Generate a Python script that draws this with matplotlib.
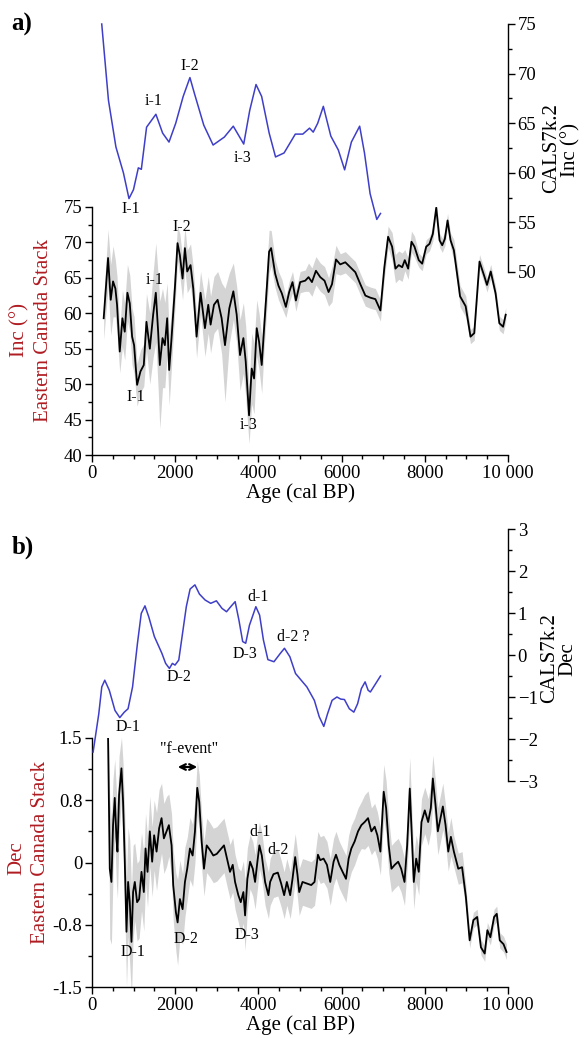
import matplotlib
matplotlib.use('Agg')
import matplotlib.pyplot as plt
from matplotlib.ticker import MultipleLocator, FixedLocator, FixedFormatter
import numpy as np

plt.rcParams['font.family'] = ['Liberation Serif', 'DejaVu Serif']

# ---------------- data: panel a (inclination) ----------------
cals_inc_age = [234, 396, 575, 755, 889, 997, 1114, 1186, 1312, 1536, 1698, 1851, 2013, 2192,
                2354, 2462, 2687, 2911, 3181, 3396, 3647, 3792, 3943, 4078, 4259, 4412, 4617,
                4887, 5067, 5229, 5318, 5426, 5561, 5741, 5921, 6073, 6235, 6434, 6550, 6685,
                6846, 6935]
cals_inc = [75.0, 67.3, 62.6, 60.0, 57.4, 58.3, 60.5, 60.35, 64.6, 65.9, 64.0, 63.1, 65.0, 67.7,
            69.6, 68.0, 64.8, 62.8, 63.6, 64.7, 62.9, 66.3, 68.9, 67.7, 64.0, 61.6, 62.0,
            63.9, 63.9, 64.5, 64.1, 65.0, 66.7, 63.7, 62.3, 60.3, 63.1, 64.7, 62.0, 57.9,
            55.3, 55.9]

stack_inc_age = [281, 386, 450, 506, 562, 602, 667, 731, 787, 851, 908, 964, 1012, 1084, 1165,
                 1245, 1309, 1390, 1470, 1534, 1590, 1630, 1695, 1751, 1807, 1855, 1912, 1992,
                 2056, 2112, 2177, 2233, 2289, 2369, 2434, 2514, 2610, 2715, 2795, 2851, 2932,
                 3020, 3116, 3197, 3301, 3398, 3478, 3558, 3639, 3695, 3775, 3839, 3896, 3960,
                 4016, 4080, 4137, 4201, 4257, 4306, 4402, 4482, 4564, 4660, 4740, 4820, 4901,
                 5004, 5125, 5205, 5287, 5383, 5487, 5590, 5687, 5769, 5865, 5967, 6089, 6209,
                 6330, 6451, 6571, 6692, 6812, 6933, 7028, 7118, 7214, 7294, 7374, 7456, 7519,
                 7600, 7680, 7752, 7855, 7937, 8034, 8113, 8193, 8275, 8355, 8419, 8482, 8547,
                 8619, 8699, 8819, 8847, 8982, 9099, 9189, 9315, 9432, 9495, 9585, 9702, 9792,
                 9882, 9945]
stack_inc = [59.3, 67.8, 61.9, 64.5, 63.5, 61.2, 54.6, 59.3, 57.4, 62.9, 61.4, 56.7, 55.5, 49.9,
             51.8, 52.7, 58.8, 55.0, 59.8, 62.9, 57.4, 52.7, 56.5, 55.5, 59.3, 52.0, 56.5, 63.5,
             69.9, 68.2, 64.9, 69.2, 65.9, 66.8, 63.5, 56.7, 62.9, 57.9, 61.2, 58.4, 61.2,
             61.9, 59.3, 55.5, 60.7, 63.1, 59.8, 54.1, 56.5, 53.2, 45.6, 52.2, 50.8, 57.9,
             56.0, 52.7, 57.9, 63.5, 68.7, 69.2, 65.6, 63.9, 62.8, 60.9, 63.0, 64.4, 61.8,
             64.4, 64.6, 65.1, 64.4, 66.0, 65.1, 64.6, 63.0, 64.1, 67.6, 66.9, 67.2, 66.5,
             65.8, 64.1, 62.5, 62.2, 62.0, 60.4, 66.5, 70.8, 69.4, 66.3, 66.8, 66.5, 67.5,
             66.3, 70.1, 69.4, 67.5, 67.0, 69.4, 69.8, 71.2, 74.9, 70.3, 69.6, 70.5, 73.1,
             70.3, 68.9, 63.7, 62.4, 61.0, 56.7, 57.2, 67.3, 65.2, 64.0, 65.9, 62.8, 58.6,
             58.1, 59.8]
stack_inc_err = [3, 4, 5, 5, 4, 4, 3, 4, 4, 4, 4, 4, 4, 3, 3,
                 3, 4, 5, 6, 7, 8, 9, 7, 6, 5, 5, 4, 3,
                 2.5, 3, 3, 3, 3, 3, 3, 3, 3, 4, 4, 4, 4,
                 4, 5, 8, 5, 4, 4, 5, 5, 5, 4, 5, 5, 4,
                 4, 4, 3, 3, 3, 2.5, 2, 2, 2, 1.5, 1.5, 1.5, 1.5,
                 1.5, 1.5, 2, 2, 2, 2, 2, 2, 2.5, 2, 1.5, 1.5, 1.5,
                 1.5, 1.5, 1.5, 1.5, 1.5, 1.5, 1.5, 1.5, 2, 2, 2, 2, 1.5,
                 1.5, 1.5, 1.5, 1, 1, 1, 1, 1, 1, 1, 1, 1, 1,
                 1, 1.5, 1.5, 1.5, 1.5, 1, 1, 1, 1, 1, 1, 1, 1,
                 1, 1]

# ---------------- data: panel b (declination) ----------------
cals_dec_age = [27, 163, 235, 307, 416, 552, 668, 777, 867, 975, 1093, 1184, 1273, 1364, 1499,
                1680, 1770, 1861, 1932, 1996, 2086, 2177, 2267, 2358, 2474, 2583, 2718, 2854,
                2990, 3125, 3234, 3352, 3441, 3532, 3622, 3695, 3785, 3939, 4029, 4120, 4228,
                4374, 4528, 4627, 4756, 4892, 5028, 5165, 5345, 5462, 5572, 5662, 5771, 5888,
                5978, 6068, 6186, 6294, 6385, 6475, 6565, 6638, 6692, 6935]
cals_dec = [-2.31, -1.40, -0.76, -0.60, -0.84, -1.32, -1.49, -1.36, -1.28, -0.76, 0.28, 0.99,
            1.17, 0.91, 0.44, 0.04, -0.20, -0.32, -0.20, -0.24, -0.12, 0.52, 1.15, 1.57, 1.67,
            1.45, 1.31, 1.23, 1.29, 1.11, 1.03, 1.17, 1.27, 0.83, 0.32, 0.28, 0.71, 1.15, 0.95,
            0.36, -0.11, -0.16, 0.04, 0.16, -0.04, -0.44, -0.60, -0.76, -1.08, -1.47, -1.70,
            -1.40, -1.08, -1.00, -1.05, -1.06, -1.28, -1.36, -1.16, -0.80, -0.64, -0.84, -0.88,
            -0.50]

stack_dec_age = [386, 427, 467, 506, 547, 588, 612, 651, 708, 747, 788, 829, 868, 908, 949,
                 988, 1029, 1084, 1133, 1190, 1246, 1287, 1335, 1390, 1446, 1494, 1552, 1614,
                 1672, 1728, 1793, 1848, 1913, 1952, 2017, 2058, 2113, 2178, 2234, 2289, 2354,
                 2419, 2475, 2530, 2578, 2636, 2692, 2757, 2836, 2916, 2998, 3077, 3173, 3253,
                 3318, 3383, 3439, 3518, 3576, 3639, 3680, 3735, 3800, 3865, 3920, 3976, 4024,
                 4082, 4161, 4241, 4282, 4362, 4467, 4547, 4619, 4684, 4764, 4820, 4884, 4940,
                 4981, 5060, 5166, 5270, 5349, 5431, 5487, 5566, 5648, 5727, 5807, 5865, 5945,
                 6024, 6106, 6169, 6234, 6313, 6395, 6475, 6554, 6636, 6716, 6795, 6860, 6933,
                 7012, 7070, 7133, 7198, 7278, 7360, 7432, 7512, 7576, 7639, 7696, 7735, 7793,
                 7855, 7920, 8000, 8081, 8145, 8193, 8258, 8313, 8378, 8434, 8499, 8564, 8627,
                 8699, 8805, 8896, 8987, 9078, 9168, 9259, 9349, 9440, 9504, 9576, 9666, 9730,
                 9802, 9893, 9965]
stack_dec = [1.62, -0.08, -0.25, 0.48, 0.83, 0.31, 0.14, 0.87, 1.21, 0.78, 0.01, -0.89, -0.25,
             -0.51, -1.02, -0.38, -0.25, -0.51, -0.47, -0.12, -0.38, 0.18, -0.12, 0.40, 0.01,
             0.35, 0.14, 0.44, 0.57, 0.31, 0.40, 0.48, 0.22, -0.29, -0.64, -0.77, -0.47, -0.60,
             -0.25, -0.08, 0.18, 0.09, 0.40, 0.96, 0.78, 0.27, -0.08, 0.22, 0.16, 0.09, 0.11,
             0.16, 0.22, 0.03, -0.12, -0.03, -0.25, -0.42, -0.51, -0.38, -0.68, -0.21, 0.01,
             -0.08, -0.25, 0.01, 0.22, 0.09, -0.25, -0.42, -0.25, -0.15, -0.13, -0.27, -0.42,
             -0.25, -0.42, -0.21, 0.07, -0.16, -0.38, -0.25, -0.27, -0.29, -0.25, 0.10, 0.03,
             0.05, -0.03, -0.25, 0.01, 0.10, -0.03, -0.12, -0.21, 0.05, 0.18, 0.27, 0.40, 0.48,
             0.52, 0.57, 0.40, 0.46, 0.35, 0.14, 0.91, 0.70, 0.22, -0.08, -0.03, 0.01, -0.08,
             -0.25, 0.22, 0.95, 0.22, -0.25, 0.05, -0.12, 0.52, 0.67, 0.52, 0.70, 1.08, 0.74,
             0.40, 0.57, 0.72, 0.48, 0.14, 0.33, 0.14, -0.08, -0.06, -0.44, -1.00, -0.74, -0.70,
             -1.09, -1.17, -0.87, -0.96, -0.70, -0.66, -1.00, -1.05, -1.15]
stack_dec_err = [0.2, 0.9, 0.8, 0.6, 0.5, 0.6, 0.6, 0.5, 0.4, 0.5, 0.6, 0.7, 0.7, 0.8, 0.7,
                 0.6, 0.5, 0.5, 0.5, 0.5, 0.5, 0.45, 0.45, 0.45, 0.45, 0.45, 0.5, 0.5,
                 0.45, 0.45, 0.45, 0.4, 0.4, 0.45, 0.5, 0.55, 0.5, 0.45, 0.45, 0.4, 0.4,
                 0.4, 0.4, 0.35, 0.35, 0.35, 0.35, 0.35, 0.35, 0.35, 0.35, 0.35, 0.35, 0.35,
                 0.35, 0.35, 0.35, 0.35, 0.4, 0.4, 0.45, 0.4, 0.35, 0.35, 0.35, 0.35, 0.3,
                 0.3, 0.3, 0.3, 0.3, 0.3, 0.3, 0.3, 0.3, 0.3, 0.3, 0.3, 0.3, 0.3,
                 0.3, 0.3, 0.3, 0.3, 0.3, 0.3, 0.3, 0.3, 0.3, 0.3, 0.3, 0.3, 0.3,
                 0.3, 0.3, 0.3, 0.3, 0.3, 0.3, 0.3, 0.35, 0.35, 0.3, 0.3, 0.3, 0.3,
                 0.35, 0.35, 0.35, 0.3, 0.3, 0.3, 0.3, 0.3, 0.3, 0.4, 0.35, 0.35, 0.3,
                 0.3, 0.3, 0.3, 0.3, 0.3, 0.3, 0.3, 0.3, 0.3, 0.3, 0.25, 0.25, 0.25,
                 0.2, 0.2, 0.2, 0.15, 0.1, 0.1, 0.1, 0.1, 0.1, 0.1, 0.1, 0.1, 0.1,
                 0.1, 0.1, 0.1]

x_ticks = [0, 2000, 4000, 6000, 8000, 10000]
x_ticklabels = ['0', '2000', '4000', '6000', '8000', '10 000']
dec_ticks = [-1.6, -0.8, 0, 0.8, 1.6]
dec_ticklabels = ['-1.5', '-0.8', '0', '0.8', '1.5']

# ---------------- layout helpers ----------------
W, H = 586, 1038
fig = plt.figure(figsize=(W / 100, H / 100), dpi=100)


def rect(l, t, r, b):
    return [l / W, 1 - b / H, (r - l) / W, (b - t) / H]


def fx(x):
    return x / W


def fy(y):
    return 1 - y / H


RED = '#b01c22'
BLUE = '#3e3ec8'
GRAY = '#d4d4d4'
TICK_FS = 13.5
LABEL_FS = 15
ANN_FS = 11.5


def style_main(ax):
    for s in ['top', 'right']:
        ax.spines[s].set_visible(False)
    for s in ['left', 'bottom']:
        ax.spines[s].set_linewidth(1.0)
    ax.set_xlim(0, 10000)
    ax.xaxis.set_major_locator(FixedLocator(x_ticks))
    ax.xaxis.set_major_formatter(FixedFormatter(x_ticklabels))
    ax.xaxis.set_minor_locator(MultipleLocator(500))
    ax.tick_params(which='major', direction='out', length=5, width=1, labelsize=TICK_FS, pad=2)
    ax.tick_params(which='minor', direction='out', length=3, width=1)
    ax.set_xlabel('Age (cal BP)', fontsize=LABEL_FS, labelpad=1)


def style_right(ax):
    ax.patch.set_visible(False)
    for s in ['top', 'left', 'bottom']:
        ax.spines[s].set_visible(False)
    ax.spines['right'].set_linewidth(1.0)
    ax.set_xlim(0, 10000)
    ax.set_xticks([])
    ax.yaxis.tick_right()
    ax.tick_params(which='major', direction='out', length=5, width=1, labelsize=TICK_FS, pad=2)
    ax.tick_params(which='minor', direction='out', length=3, width=1)


# ================= panel a =================
axa = fig.add_axes(rect(92, 207, 508, 455))
style_main(axa)
lo = [v - e for v, e in zip(stack_inc, stack_inc_err)]
hi = [v + e for v, e in zip(stack_inc, stack_inc_err)]
axa.fill_between(stack_inc_age, lo, hi, color=GRAY, lw=0)
axa.plot(stack_inc_age, stack_inc, color='black', lw=1.3)
axa.set_ylim(40, 75)
axa.yaxis.set_major_locator(MultipleLocator(5))
axa.yaxis.set_minor_locator(MultipleLocator(2.5))

axa2 = fig.add_axes(rect(92, 24, 508, 272))
style_right(axa2)
axa2.plot(cals_inc_age, cals_inc, color=BLUE, lw=1.1, clip_on=False)
axa2.set_ylim(50, 75)
axa2.yaxis.set_major_locator(MultipleLocator(5))
axa2.yaxis.set_minor_locator(MultipleLocator(2.5))

fig.text(fx(22), fy(24), 'a)', fontsize=18, fontweight='bold', ha='center', va='center')
fig.text(fx(552), fy(148), 'CALS7k.2', fontsize=LABEL_FS, rotation=90, ha='center', va='center')
fig.text(fx(571), fy(150), 'Inc (°)', fontsize=LABEL_FS, rotation=90, ha='center', va='center')
fig.text(fx(20), fy(330), 'Inc (°)', fontsize=LABEL_FS, rotation=90, ha='center', va='center', color=RED)
fig.text(fx(44), fy(330), 'Eastern Canada Stack', fontsize=LABEL_FS, rotation=90, ha='center',
         va='center', color=RED)

for txt, x, y in [('I-2', 190, 66), ('i-1', 154, 101), ('i-3', 243, 158), ('I-1', 131, 209),
                  ('I-2', 182, 227), ('i-1', 155, 280), ('I-1', 136, 397), ('i-3', 249, 425)]:
    fig.text(fx(x), fy(y), txt, fontsize=ANN_FS, ha='center', va='center')

# ================= panel b =================
axb = fig.add_axes(rect(92, 738, 508, 987))
style_main(axb)
lo = [v - e for v, e in zip(stack_dec, stack_dec_err)]
hi = [v + e for v, e in zip(stack_dec, stack_dec_err)]
axb.fill_between(stack_dec_age, lo, hi, color=GRAY, lw=0)
axb.plot(stack_dec_age, stack_dec, color='black', lw=1.3)
axb.set_ylim(-1.6, 1.6)
axb.yaxis.set_major_locator(FixedLocator(dec_ticks))
axb.yaxis.set_major_formatter(FixedFormatter(dec_ticklabels))
axb.yaxis.set_minor_locator(FixedLocator([-1.2, -0.4, 0.4, 1.2]))

axb2 = fig.add_axes(rect(92, 529, 508, 781))
style_right(axb2)
axb2.plot(cals_dec_age, cals_dec, color=BLUE, lw=1.1, clip_on=False)
axb2.set_ylim(-3, 3)
axb2.yaxis.set_major_locator(MultipleLocator(1))
axb2.yaxis.set_minor_locator(MultipleLocator(0.5))

fig.text(fx(23), fy(547), 'b)', fontsize=18, fontweight='bold', ha='center', va='center')
fig.text(fx(550), fy(658), 'CALS7k.2', fontsize=LABEL_FS, rotation=90, ha='center', va='center')
fig.text(fx(568), fy(659), 'Dec', fontsize=LABEL_FS, rotation=90, ha='center', va='center')
fig.text(fx(17), fy(858), 'Dec', fontsize=LABEL_FS, rotation=90, ha='center', va='center', color=RED)
fig.text(fx(41), fy(852), 'Eastern Canada Stack', fontsize=LABEL_FS, rotation=90, ha='center',
         va='center', color=RED)

for txt, x, y in [('d-1', 258, 597), ('d-2 ?', 293, 637), ('D-3', 245, 654), ('D-2', 179, 677),
                  ('D-1', 128, 727), ('"f-event"', 189, 749),
                  ('d-1', 260, 832), ('d-2', 278, 850), ('D-1', 133, 952), ('D-2', 186, 939),
                  ('D-3', 247, 935)]:
    fig.text(fx(x), fy(y), txt, fontsize=ANN_FS, ha='center', va='center')

fig.patches.append(matplotlib.patches.FancyArrowPatch(
    (fx(175), fy(767)), (fx(200), fy(767)), transform=fig.transFigure,
    arrowstyle='<->', mutation_scale=10, lw=1.6, color='black'))

fig.savefig('out.png', dpi=100)
